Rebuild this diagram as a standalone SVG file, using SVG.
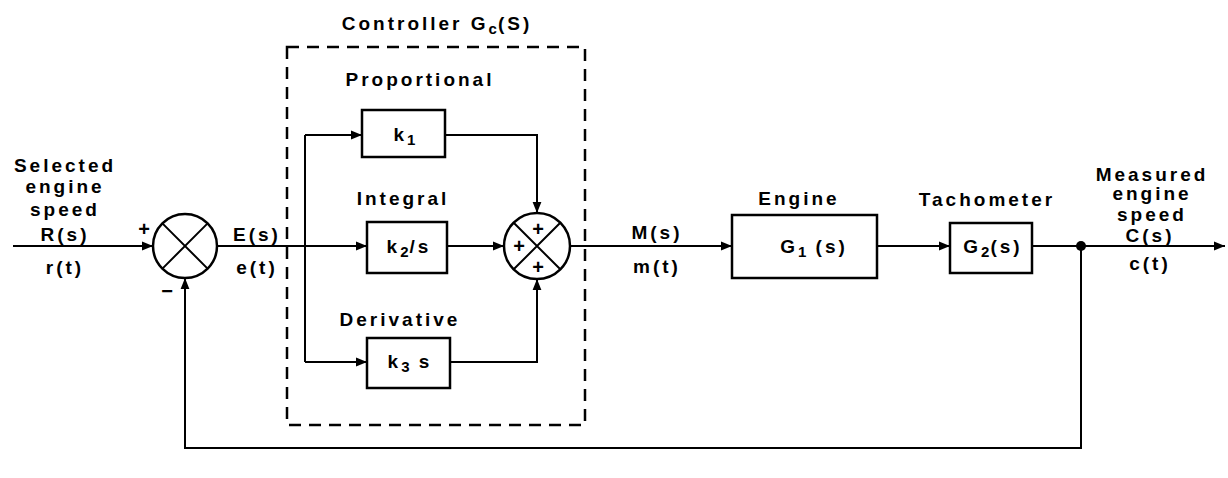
<svg xmlns="http://www.w3.org/2000/svg" width="1228" height="478" viewBox="0 0 1228 478">
<style>
text{font-family:"Liberation Sans",Arial,sans-serif;font-weight:bold;font-size:19px;fill:#000;letter-spacing:3px}
.c{text-anchor:middle}
.sub{font-size:15px;letter-spacing:1px}
.box{fill:#fff;stroke:#000;stroke-width:2.5}
.ln{fill:none;stroke:#000;stroke-width:2}
.pm{font-size:20px;text-anchor:middle;letter-spacing:0}
</style>
<defs>
<marker id="ah" viewBox="0 0 10 10" refX="10" refY="5" markerWidth="13" markerHeight="11" markerUnits="userSpaceOnUse" orient="auto">
<path d="M0,1 L10,5 L0,9 Z" fill="#000"/>
</marker>
</defs>
<rect x="0" y="0" width="1228" height="478" fill="#fff"/>

<g id="controller">
<rect x="287" y="47" width="298" height="378" fill="none" stroke="#000" stroke-width="2.5" stroke-dasharray="12,8"/>
<text x="437" y="30" class="c">Controller G<tspan class="sub" dy="4">c</tspan><tspan dy="-4">(S)</tspan></text>
</g>

<g id="connectors">
<path class="ln" d="M13,246 H153" marker-end="url(#ah)"/>
<path class="ln" d="M217,246 H367" marker-end="url(#ah)"/>
<path class="ln" d="M305,135 V362"/>
<path class="ln" d="M305,135 H362" marker-end="url(#ah)"/>
<path class="ln" d="M305,362 H367" marker-end="url(#ah)"/>
<path class="ln" d="M445,135 H537 V213" marker-end="url(#ah)"/>
<path class="ln" d="M447,246 H504" marker-end="url(#ah)"/>
<path class="ln" d="M450,362 H537 V279" marker-end="url(#ah)"/>
<path class="ln" d="M570,246 H732" marker-end="url(#ah)"/>
<path class="ln" d="M877,246 H950" marker-end="url(#ah)"/>
<path class="ln" d="M1032,246 H1225" marker-end="url(#ah)"/>
<path class="ln" d="M1081,246 V448 H185 V278" marker-end="url(#ah)"/>
<circle cx="1081" cy="246" r="5" fill="#000"/>
</g>

<g id="sum1">
<circle cx="185" cy="246" r="32" fill="#fff" stroke="#000" stroke-width="2.5"/>
<path class="ln" d="M162.4,223.4 L207.6,268.6 M207.6,223.4 L162.4,268.6"/>
<text x="144" y="236" class="pm">+</text>
<text x="167" y="298" class="pm">−</text>
</g>

<g id="k1">
<rect class="box" x="362" y="110" width="83" height="47"/>
<text x="405" y="141" class="c">k<tspan class="sub" dy="4">1</tspan></text>
<text x="420" y="86" class="c">Proportional</text>
</g>

<g id="k2">
<rect class="box" x="367" y="222" width="80" height="51"/>
<text x="409" y="253" class="c">k<tspan class="sub" dy="4">2</tspan><tspan dy="-4">/s</tspan></text>
<text x="403" y="205" class="c">Integral</text>
</g>

<g id="k3">
<rect class="box" x="367" y="338" width="83" height="50"/>
<text x="410" y="368" class="c">k<tspan class="sub" dy="4">3</tspan><tspan dy="-4"> s</tspan></text>
<text x="400" y="326" class="c">Derivative</text>
</g>

<g id="sum2">
<circle cx="537" cy="246" r="33" fill="#fff" stroke="#000" stroke-width="2.5"/>
<path class="ln" d="M513.7,222.7 L560.3,269.3 M560.3,222.7 L513.7,269.3"/>
<text x="538" y="236" class="pm">+</text>
<text x="519" y="253" class="pm">+</text>
<text x="538" y="274" class="pm">+</text>
</g>

<g id="engine">
<rect class="box" x="732" y="215" width="145" height="63"/>
<text x="799" y="205" class="c">Engine</text>
<text x="814" y="253" class="c">G<tspan class="sub" dy="4">1</tspan><tspan dy="-4"> (s)</tspan></text>
</g>

<g id="tachometer">
<rect class="box" x="950" y="223" width="82" height="50"/>
<text x="987" y="206" class="c">Tachometer</text>
<text x="993" y="253" class="c">G<tspan class="sub" dy="4">2</tspan><tspan dy="-4">(s)</tspan></text>
</g>

<g id="input-labels">
<text x="65" y="172" class="c">Selected</text>
<text x="65" y="193" class="c">engine</text>
<text x="65" y="216" class="c">speed</text>
<text x="65" y="241" class="c">R(s)</text>
<text x="65" y="274" class="c">r(t)</text>
<text x="257" y="241" class="c">E(s)</text>
<text x="257" y="274" class="c">e(t)</text>
<text x="657" y="239" class="c">M(s)</text>
<text x="657" y="273" class="c">m(t)</text>
</g>

<g id="output-labels">
<text x="1152" y="181" class="c">Measured</text>
<text x="1152" y="200" class="c">engine</text>
<text x="1152" y="221" class="c">speed</text>
<text x="1150" y="242" class="c">C(s)</text>
<text x="1150" y="270" class="c">c(t)</text>
</g>
</svg>
